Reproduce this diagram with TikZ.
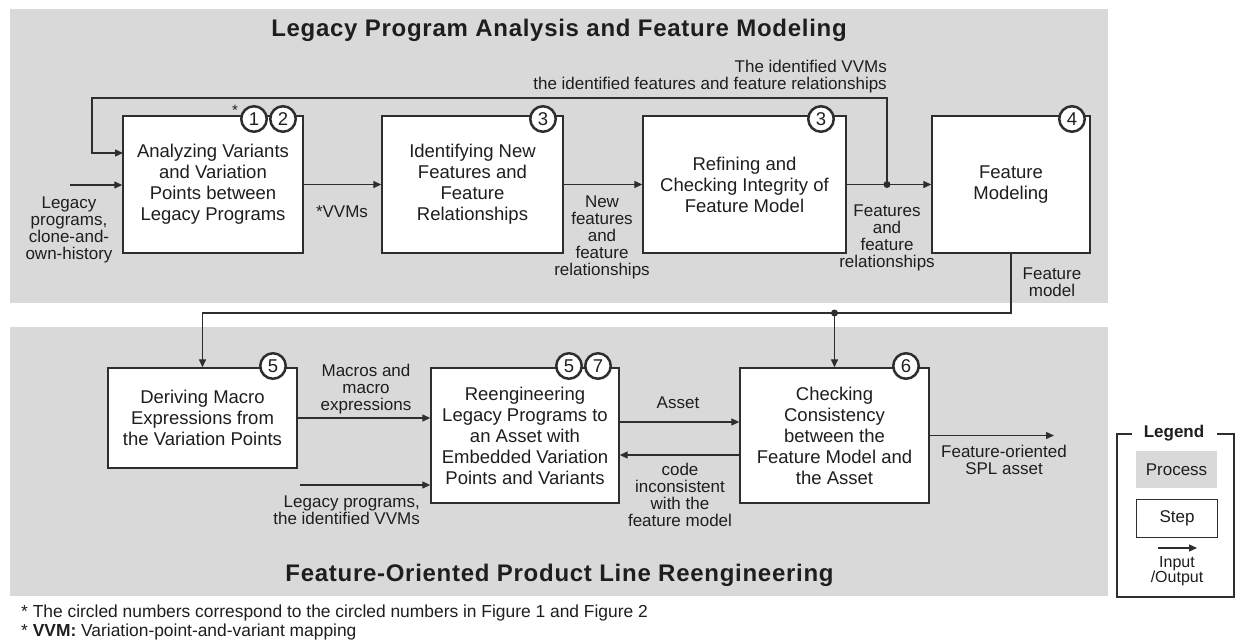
\documentclass[tikz,border=0pt]{standalone}
\usepackage{fontspec}
\setmainfont{Liberation Sans}
\usetikzlibrary{arrows.meta,calc}
\definecolor{panelgray}{HTML}{D9D9D9}
\definecolor{linec}{HTML}{2E2E2E}
\definecolor{txtc}{HTML}{1E1E1E}
\newfontfamily\ttlfamily[LetterSpace=3]{Liberation Sans}
\newcommand{\boxfont}{\fontsize{18.5}{21}\selectfont}
\newcommand{\lblfont}{\fontsize{17}{17}\selectfont}
\newcommand{\numfont}{\fontsize{18.5}{18.5}\selectfont}
\newcommand{\ttlfont}{\ttlfamily\fontsize{24}{26}\selectfont\bfseries}
\newcommand{\footfont}{\fontsize{17.4}{19}\selectfont}
\begin{document}
\begin{tikzpicture}[x=1pt,y=-1pt,
  panel/.style={fill=panelgray,draw=none},
  stepbox/.style={draw=linec,line width=1.4pt,fill=white,font=\boxfont,text=txtc,align=center,inner sep=0pt},
  num/.style={circle,draw=linec,line width=2.5pt,fill=white,minimum size=25.5pt,inner sep=0pt,font=\numfont,text=txtc},
  arr/.style={draw=linec,line width=1.3pt,-{Triangle[length=8pt,width=7pt]}},
  conn/.style={draw=linec,line width=1.3pt},
  lbl/.style={font=\lblfont,text=txtc,align=center,inner sep=0pt},
  jdot/.style={circle,fill=linec,minimum size=7pt,inner sep=0pt},
  ttl/.style={font=\ttlfont,text=txtc,inner sep=0pt}
]
\useasboundingbox (0,0) rectangle (1235,643);
\fill[white] (0,0) rectangle (1235,643);
% panels
\fill[panel] (10,9) rectangle (1108,303);
\fill[panel] (10,327) rectangle (1108,596);
\node[ttl] (t1) at (559,30) {Legacy Program Analysis and Feature Modeling};
\node[ttl] (t2) at (559.5,575) {Feature-Oriented Product Line Reengineering};

% top steps
\node[stepbox,minimum width=180pt,minimum height=137pt] (b1) at (213,184.5) {Analyzing Variants\\and Variation\\Points between\\Legacy Programs};
\node[stepbox,minimum width=181pt,minimum height=137pt] (b2) at (472.5,184.5) {Identifying New\\Features and\\Feature\\Relationships};
\node[stepbox,minimum width=203pt,minimum height=137pt] (b3) at (744.5,184.5) {Refining and\\Checking Integrity of\\Feature Model};
\node[stepbox,minimum width=158pt,minimum height=137pt] (b4) at (1011,184.5) {Feature\\Modeling};

% bottom steps
\node[stepbox,minimum width=189pt,minimum height=100pt] (b5) at (202.5,418) {Deriving Macro\\Expressions from\\the Variation Points};
\node[stepbox,minimum width=188pt,minimum height=135pt] (b6) at (525,435.5) {Reengineering\\Legacy Programs to\\an Asset with\\Embedded Variation\\Points and Variants};
\node[stepbox,minimum width=189pt,minimum height=135pt] (b7) at (834.5,435.5) {Checking\\Consistency\\between the\\Feature Model and\\the Asset};

% circled numbers
\node[lbl,font=\fontsize{15}{15}\selectfont] (ast) at (235,110) {*};
\node[num] (n1) at (254,119) {1};
\node[num] (n2) at (283,119) {2};
\node[num] (n3a) at (543,119) {3};
\node[num] (n3b) at (821,119) {3};
\node[num] (n4) at (1072,119) {4};
\node[num] (n5a) at (273,366) {5};
\node[num] (n5b) at (569,366) {5};
\node[num] (n7) at (598,366) {7};
\node[num] (n6) at (906,366) {6};

% coordinates
\coordinate (in0) at (70,185);
\coordinate (j1) at (887,184.5);
\coordinate (fb1) at (92,98);
\coordinate (fb2) at (123,153);
\coordinate (j2) at (834.5,313);
\coordinate (lp) at (300,485);
\coordinate (out) at (1054,435.5);

% top connectors
\draw[arr] (in0) -- (in0 -| b1.west);
\draw[arr] (b1) -- (b2);
\draw[arr] (b2) -- (b3);
\draw[arr] (b3) -- (b4);
\draw[arr] (j1) |- (fb1) |- (fb2);
\node[jdot] (d1) at (j1) {};

% bottom connectors
\draw[conn] (b4.south) |- (j2);
\draw[arr] (j2) -| (b5.north);
\draw[arr] (j2) -- (b7.north);
\node[jdot] (d2) at (j2) {};
\draw[arr] (b5.east) -- (b5.east -| b6.west);
\draw[arr] (lp) -- (lp -| b6.west);
\draw[arr] ([yshift=13.5pt]b6.east) -- ([yshift=13.5pt]b7.west);
\draw[arr] ([yshift=-19.5pt]b7.west) -- ([yshift=-19.5pt]b6.east);
\draw[arr] (b7.east) -- (out);

% labels
\node[lbl] (l1) at (69,229.5) {Legacy\\programs,\\clone-and-\\own-history};
\node[lbl] (l2) at (342,212) {*VVMs};
\node[lbl] (l3) at (602,237.5) {New\\features\\and\\feature\\relationships};
\node[lbl] (l4) at (887,237.5) {Features\\and\\feature\\relationships};
\node[lbl] (l5) at (1052,282.5) {Feature\\model};
\node[lbl,anchor=east,align=right] (l6) at (887,76.5) {The identified VVMs\\the identified features and feature relationships};
\node[lbl] (l7) at (366,389) {Macros and\\macro\\expressions};
\node[lbl,anchor=east,align=right] (l8) at (420,510) {Legacy programs,\\the identified VVMs};
\node[lbl] (l9) at (678,403) {Asset};
\node[lbl] (l10) at (680,494.5) {code\\inconsistent\\with the\\feature model};
\node[lbl] (l11) at (1004,460) {Feature-oriented\\SPL asset};

% legend
\draw[linec,line width=1.3pt] (1132,434) -- (1117,434) -- (1117,597) -- (1234,597) -- (1234,434) -- (1217,434);
\node[lbl,font=\fontsize{17}{17}\selectfont\bfseries] (lg) at (1174,433) {Legend};
\node[fill=panelgray,minimum width=81pt,minimum height=37pt,inner sep=0pt,font=\lblfont,text=txtc] (lp1) at (1176.5,469.5) {Process};
\node[draw=linec,line width=1.3pt,fill=white,minimum width=81pt,minimum height=38pt,inner sep=0pt,font=\lblfont,text=txtc] (ls) at (1177,518.5) {Step};
\coordinate (la0) at (1158,548);
\coordinate (la1) at (1197,548);
\draw[arr] (la0) -- (la1);
\node[lbl,font=\fontsize{16}{15.5}\selectfont] (lio) at (1177,571) {Input\\/Output};

% footnotes
\node[anchor=west,inner sep=0pt,font=\footfont,text=txtc] (f1) at (21,613) {* The circled numbers correspond to the circled numbers in Figure 1 and Figure 2};
\node[anchor=west,inner sep=0pt,font=\footfont,text=txtc] (f2) at (21,632) {* \textbf{VVM:} Variation-point-and-variant mapping};
\end{tikzpicture}
\end{document}
